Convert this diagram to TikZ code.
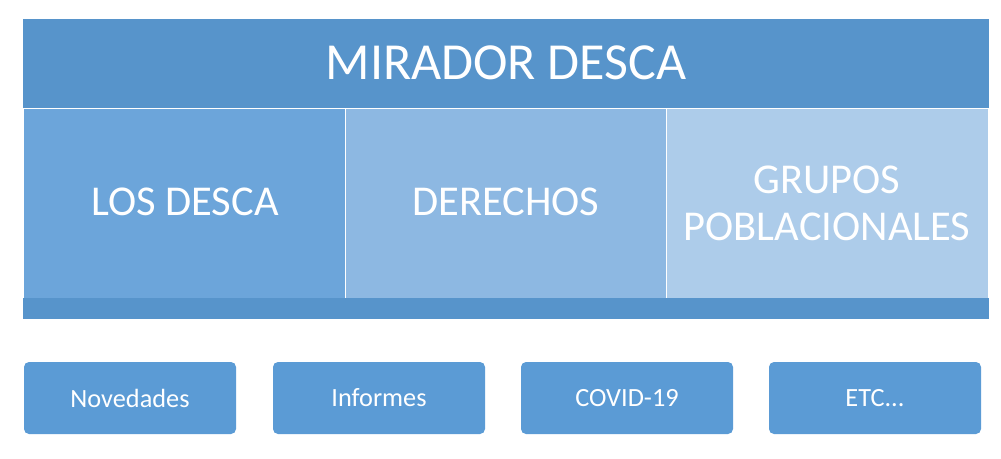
\documentclass[tikz,border=0pt]{standalone}
\usepackage{fontspec}
\setmainfont{Carlito}
\definecolor{banner}{RGB}{87,148,203}
\definecolor{pone}{RGB}{108,165,218}
\definecolor{ptwo}{RGB}{141,184,226}
\definecolor{pthree}{RGB}{173,204,234}
\definecolor{btn}{RGB}{91,155,213}
\begin{document}
\begin{tikzpicture}[x=1pt,y=-1pt,
  paneltext/.style={text=white,font=\fontsize{42.5}{47}\selectfont,align=center},
  panelbox/.style={draw=white,line width=0.8pt},
  btnbox/.style={fill=btn,rounded corners=5pt,minimum width=212pt,minimum height=72pt,text=white,font=\fontsize{26.3}{30}\selectfont,inner sep=0pt}]
\useasboundingbox (0,0) rectangle (1001,458);
\fill[banner] (23,19) rectangle (989,319);
\draw[panelbox,fill=pone] (23.5,108.5) rectangle (345.5,298);
\draw[panelbox,fill=ptwo] (345.5,108.5) rectangle (666.5,298);
\draw[panelbox,fill=pthree] (666.5,108.5) rectangle (988.5,298);
\fill[banner] (23,298) rectangle (989,319);
\node[text=white,font=\fontsize{52}{60}\selectfont] (title) at (506,63) {MIRADOR DESCA};
\node[paneltext] (p1) at (185,202) {LOS DESCA};
\node[paneltext] (p2) at (506,202) {DERECHOS};
\node[paneltext] (p3) at (827,203) {GRUPOS\\POBLACIONALES};
\node[btnbox] (b1) at (130,398) {Novedades};
\node[btnbox] (b2) at (379,398) {Informes};
\node[btnbox] (b3) at (627,398) {COVID-19};
\node[btnbox] (b4) at (875,398) {ETC...};
\end{tikzpicture}
\end{document}
